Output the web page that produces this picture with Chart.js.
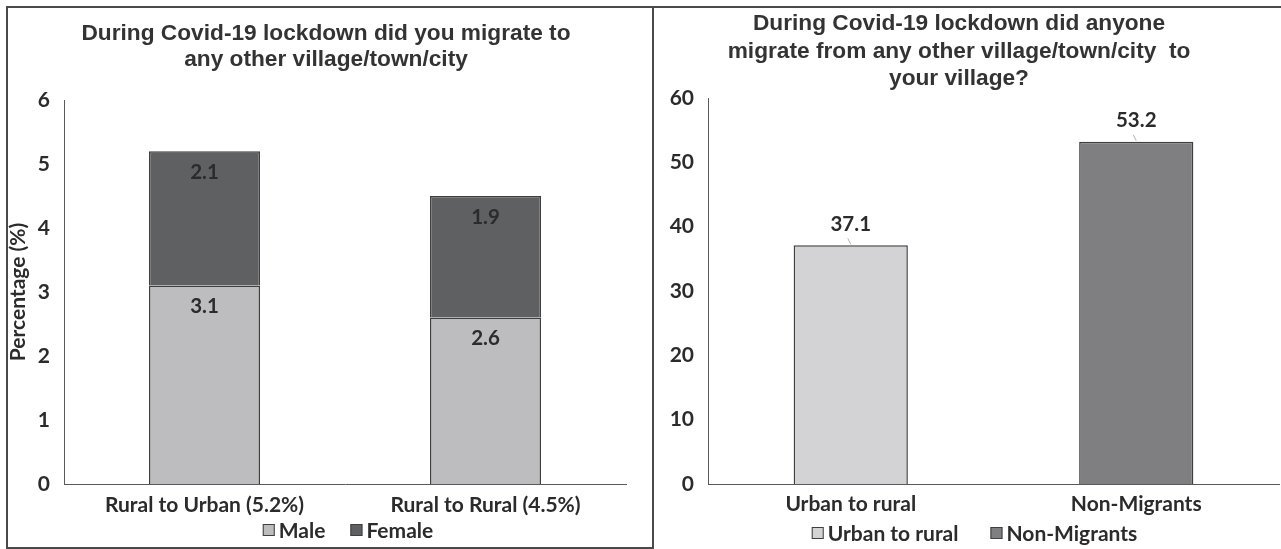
<!DOCTYPE html>
<html>
<head>
<meta charset="utf-8">
<script src="https://cdn.jsdelivr.net/npm/chart.js@4.4.1/dist/chart.umd.min.js"></script>
<style>
  html, body { margin: 0; padding: 0; background: #fff; overflow: hidden; width: 1281px; height: 549px; }
  #page { position: relative; width: 1281px; height: 549px; overflow: hidden; }
  canvas { position: absolute; }
  #leftChart { left: 8px; top: 8px; }
  #rightChart { left: 639px; top: 8px; }
  .frame { position: absolute; pointer-events: none; }
  #leftFrame { left: 6px; top: 6px; width: 644px; height: 539px; border: 2px solid #4a4a4a; }
  #rightTopRule { left: 652px; top: 6px; width: 629px; height: 2px; background: #4a4a4a; }
</style>
</head>
<body>
<div id="page">
  <canvas id="leftChart" width="643" height="541"></canvas>
  <canvas id="rightChart" width="642" height="541"></canvas>
  <div class="frame" id="leftFrame"></div>
  <div class="frame" id="rightTopRule"></div>
</div>
<script>
// Migration during lockdown, by route and sex (percent of respondents)
const migrationRoutes = ['Rural to Urban (5.2%)', 'Rural to Rural (4.5%)'];
const maleShare = [3.1, 2.6];
const femaleShare = [2.1, 1.9];
const sexLabels = ['Male', 'Female'];
const leftAxisTicks = [0, 1, 2, 3, 4, 5, 6];

// In-migration into the village during lockdown
const inflowGroups = ['Urban to rural', 'Non-Migrants'];
const inflowShare = [37.1, 53.2];
const rightAxisTicks = [0, 10, 20, 30, 40, 50, 60];

const leftTitle = ['During Covid-19 lockdown did you migrate to', 'any other village/town/city'];
const rightTitle = ['During Covid-19 lockdown did anyone', 'migrate from any other village/town/city  to', 'your village?'];

const TEXT = '#2b2b2b';
const AXIS = '#5a5a5a';
const EDGE = '#3f3f3f';
const tickFont = { family: 'Lato', weight: 'bold', size: 21 };
const titleFontFamily = '"Liberation Sans", Arial, sans-serif';

// Writes each bar's value either inside the top of the segment or above the bar.
const valueLabels = {
  id: 'valueLabels',
  afterDatasetsDraw(chart, args, opts) {
    const ctx = chart.ctx;
    ctx.save();
    ctx.font = 'bold 20.5px Lato';
    ctx.fillStyle = TEXT;
    ctx.textAlign = 'center';
    ctx.textBaseline = 'middle';
    chart.data.datasets.forEach((ds, di) => {
      const meta = chart.getDatasetMeta(di);
      meta.data.forEach((bar, i) => {
        const v = ds.data[i];
        if (v == null) return;
        const y = opts.inside ? bar.y + opts.offset : bar.y - opts.offset;
        if (opts.leader) {
          ctx.strokeStyle = '#b4b4b4';
          ctx.lineWidth = 1;
          ctx.beginPath();
          ctx.moveTo(bar.x - 3, bar.y - 7);
          ctx.lineTo(bar.x, bar.y - 1);
          ctx.stroke();
        }
        ctx.fillText(v.toFixed(1), bar.x, y);
      });
    });
    ctx.restore();
  }
};

// Compact legend under the category labels: small outlined squares, tight text gap.
const boxLegend = {
  id: 'boxLegend',
  afterDraw(chart, args, opts) {
    const ctx = chart.ctx;
    let items;
    if (opts.byCategory) {
      const ds = chart.data.datasets[0];
      items = chart.data.labels.map((t, i) => ({ text: t, fill: ds.backgroundColor[i] }));
    } else {
      items = chart.data.datasets.map(ds => ({ text: ds.label, fill: ds.backgroundColor }));
    }
    ctx.save();
    ctx.font = 'bold ' + opts.size + 'px Lato';
    const widths = items.map(it => opts.box + opts.gap + ctx.measureText(it.text).width);
    const total = widths.reduce((a, b) => a + b, 0) + opts.spacing * (items.length - 1);
    const area = chart.chartArea;
    let x = (area.left + area.right) / 2 + opts.shift - total / 2;
    const y = area.bottom + opts.offsetY;
    ctx.textAlign = 'left';
    ctx.textBaseline = 'middle';
    items.forEach((it, i) => {
      ctx.fillStyle = it.fill;
      ctx.fillRect(x, y - opts.box / 2, opts.box, opts.box);
      ctx.strokeStyle = EDGE;
      ctx.lineWidth = 1;
      ctx.strokeRect(x + 0.5, y - opts.box / 2 + 0.5, opts.box - 1, opts.box - 1);
      ctx.fillStyle = TEXT;
      ctx.fillText(it.text, x + opts.box + opts.gap, y + 1);
      x += widths[i] + opts.spacing;
    });
    ctx.restore();
  }
};

function draw() {
  new Chart(document.getElementById('leftChart'), {
    type: 'bar',
    data: {
      labels: migrationRoutes,
      datasets: [
        { label: sexLabels[0], data: maleShare, backgroundColor: '#bdbdbf', borderColor: EDGE, borderWidth: 1.5 },
        { label: sexLabels[1], data: femaleShare, backgroundColor: '#5f6062', borderColor: EDGE, borderWidth: 1.5 }
      ]
    },
    options: {
      responsive: false,
      animation: false,
      layout: { padding: { left: 18, right: 25, top: 0, bottom: 0 } },
      datasets: { bar: { categoryPercentage: 1, barPercentage: 0.395 } },
      scales: {
        x: {
          stacked: true,
          grid: { display: false, drawTicks: false },
          border: { display: true, color: AXIS, width: 1 },
          ticks: { font: tickFont, color: TEXT, padding: 9, maxRotation: 0, autoSkip: false },
          afterFit(s) { s.height = 65; }
        },
        y: {
          stacked: true,
          min: leftAxisTicks[0],
          max: leftAxisTicks[leftAxisTicks.length - 1],
          grid: { display: false, drawTicks: false },
          border: { display: true, color: AXIS, width: 1 },
          ticks: { stepSize: 1, font: tickFont, color: TEXT, padding: 14 },
          title: { display: true, text: 'Percentage (%)', color: TEXT, padding: { top: -18, bottom: 0 },
                   font: { family: 'Lato', weight: 'bold', size: 21, lineHeight: 1 } },
          afterFit(s) { s.width = 38; }
        }
      },
      plugins: {
        title: {
          display: true, text: leftTitle, color: '#333',
          font: { family: titleFontFamily, weight: 'bold', size: 22.7, lineHeight: 26 / 22.7 },
          padding: { top: 13, bottom: 27 }
        },
        legend: { display: false },
        tooltip: { enabled: false },
        valueLabels: { inside: true, offset: 21 },
        boxLegend: { size: 21, box: 12, gap: 4, spacing: 25, shift: 3, offsetY: 46 }
      }
    },
    plugins: [valueLabels, boxLegend]
  });

  new Chart(document.getElementById('rightChart'), {
    type: 'bar',
    data: {
      labels: inflowGroups,
      datasets: [
        { label: 'Share', data: inflowShare, backgroundColor: ['#d3d3d5', '#7f7f82'], borderColor: EDGE, borderWidth: 1.5 }
      ]
    },
    options: {
      responsive: false,
      animation: false,
      layout: { padding: { left: 0, right: 2, top: 0, bottom: 0 } },
      datasets: { bar: { categoryPercentage: 1, barPercentage: 0.4 } },
      scales: {
        x: {
          grid: { display: false, drawTicks: false },
          border: { display: true, color: AXIS, width: 1 },
          ticks: { font: tickFont, color: TEXT, padding: 8, maxRotation: 0, autoSkip: false },
          afterFit(s) { s.height = 65; }
        },
        y: {
          min: rightAxisTicks[0],
          max: rightAxisTicks[rightAxisTicks.length - 1],
          grid: { display: false, drawTicks: false },
          border: { display: true, color: AXIS, width: 1 },
          ticks: { stepSize: 10, font: tickFont, color: TEXT, padding: 14 },
          afterFit(s) { s.width = 69; }
        }
      },
      plugins: {
        title: {
          display: true, text: rightTitle, color: '#333',
          font: { family: titleFontFamily, weight: 'bold', size: 22.7, lineHeight: 27.5 / 22.7 },
          padding: { top: 2, bottom: 5.5 }
        },
        legend: { display: false },
        tooltip: { enabled: false },
        valueLabels: { inside: false, offset: 21, leader: true },
        boxLegend: { byCategory: true, size: 21, box: 12, gap: 4, spacing: 32, shift: -19, offsetY: 49 }
      }
    },
    plugins: [valueLabels, boxLegend]
  });
}

if (document.fonts && document.fonts.load) {
  Promise.all([
    document.fonts.load('bold 21px Lato'),
    document.fonts.load('bold 22px "Liberation Sans"')
  ]).then(draw, draw);
} else {
  draw();
}
</script>
</body>
</html>
